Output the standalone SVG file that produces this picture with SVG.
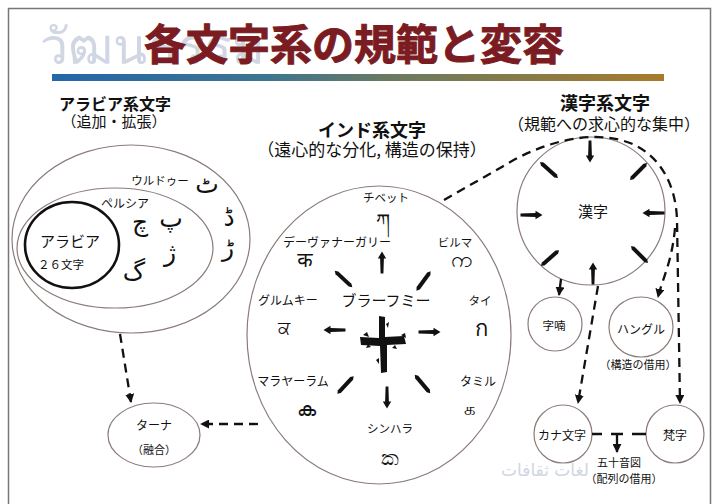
<svg xmlns="http://www.w3.org/2000/svg" width="715" height="504" viewBox="0 0 715 504">
<defs>
<style>
.jp{font-family:"Noto Sans CJK JP","Noto Sans",sans-serif;fill:#111;text-anchor:middle}
.hd{font-weight:bold}
.node{fill:#fff;stroke:#8a7c78;stroke-width:1.2}
.dash{fill:none;stroke:#111;stroke-width:2.3;stroke-dasharray:9 6}
.solid{fill:none;stroke:#111;stroke-width:2.3}
.scr{font-family:"DejaVu Sans","Noto Sans",sans-serif;fill:#111;text-anchor:middle}
.wm{font-family:"DejaVu Sans","Noto Sans",sans-serif;fill:#d0d6e3}
.rad{fill:#111}
</style>
<linearGradient id="bar" x1="0" y1="0" x2="1" y2="0">
<stop offset="0" stop-color="#2466a9"/>
<stop offset="0.35" stop-color="#3d7590"/>
<stop offset="0.55" stop-color="#6a7a60"/>
<stop offset="1" stop-color="#a67b2c"/>
</linearGradient>
<marker id="ah" viewBox="0 0 10 10" refX="9" refY="5" markerWidth="9" markerHeight="9" markerUnits="userSpaceOnUse" orient="auto">
<path d="M0,0 L10,5 L0,10 Z" fill="#111"/>
</marker>
<path id="arr" d="M-11,-1.4 L4,-1.9 L4,-4.2 L11,0 L4,4.2 L4,1.9 L-11,1.4 Z"/>
<path id="spin" d="M-12,0 L-9,-2 L9,-2 L12,0 L9,2 L-9,2 Z"/>
</defs>
<rect x="0" y="0" width="715" height="504" fill="#fff"/>
<g id="watermark">
<text class="wm" x="40" y="64" font-size="50">วัฒนธรรม</text>
<text class="wm" x="545" y="476" font-size="17" text-anchor="middle">لغات ثقافات</text>
</g>
<rect x="8.5" y="8.5" width="702" height="510" fill="none" stroke="#777" stroke-width="1.5"/>
<g id="title">
<text x="354" y="60" font-family="&quot;Noto Sans CJK JP&quot;,sans-serif" font-size="42" font-weight="bold" fill="#7b1c22" stroke="#7b1c22" stroke-width="1" text-anchor="middle">各文字系の規範と変容</text>
<rect x="52" y="74" width="612" height="7" fill="url(#bar)"/>
</g>
<g id="headings">
<text class="jp hd" x="115" y="110" font-size="16">アラビア系文字</text>
<text class="jp" x="114" y="127" font-size="15">（追加・拡張）</text>
<text class="jp hd" x="372" y="137" font-size="18">インド系文字</text>
<text class="jp" x="372" y="156" font-size="17">（遠心的な分化, 構造の保持）</text>
<text class="jp hd" x="605" y="110" font-size="18">漢字系文字</text>
<text class="jp" x="604" y="130" font-size="16">（規範への求心的な集中）</text>
</g>
<g id="urdu">
<ellipse class="node" cx="131" cy="239" rx="119" ry="94"/>
<text class="jp" x="160" y="185" font-size="11.5">ウルドゥー</text>
<text class="scr" x="207" y="193" font-size="25">ٹ</text>
<text class="scr" x="229" y="226" font-size="25">ڈ</text>
<text class="scr" x="228" y="256" font-size="25">ڑ</text>
</g>
<g id="persian">
<ellipse class="node" cx="115" cy="248" rx="98" ry="60"/>
<text class="jp" x="125" y="208" font-size="12">ペルシア</text>
<text class="scr" x="140" y="231" font-size="25">چ</text>
<text class="scr" x="171" y="227" font-size="25">پ</text>
<text class="scr" x="170" y="261" font-size="25">ژ</text>
<text class="scr" x="134" y="280" font-size="25">گ</text>
</g>
<g id="arabic">
<ellipse cx="72" cy="245" rx="47" ry="43" fill="#fff" stroke="#111" stroke-width="2.6"/>
<text class="jp" x="70" y="247" font-size="15">アラビア</text>
<text class="jp" x="61" y="269" font-size="11.5">２６文字</text>
</g>
<g id="tana">
<ellipse class="node" cx="154" cy="435" rx="46" ry="32"/>
<text class="jp" x="154" y="430" font-size="12">ターナ</text>
<text class="jp" x="154" y="454" font-size="11">（融合）</text>
</g>
<g id="indic">
<ellipse class="node" cx="379" cy="335" rx="132" ry="149"/>
<text class="jp" x="386" y="202" font-size="11.5">チベット</text>
<text class="scr" x="383" y="228" font-size="20">ཀ</text>
<text class="jp" x="337" y="247" font-size="12">デーヴァナーガリー</text>
<text class="scr" x="305" y="267" font-size="20">क</text>
<text class="jp" x="455" y="247" font-size="11.5">ビルマ</text>
<text class="scr" x="461" y="267" font-size="22">က</text>
<text class="jp" x="288" y="305" font-size="12">グルムキー</text>
<text class="scr" x="284" y="334" font-size="18">ਕ</text>
<text class="jp" x="386" y="306" font-size="15">ブラーフミー</text>
<text class="jp" x="480" y="305" font-size="11.5">タイ</text>
<text class="scr" x="481" y="336" font-size="22">ก</text>
<text class="jp" x="293" y="386" font-size="12">マラヤーラム</text>
<text class="scr" x="306" y="416" font-size="20">ക</text>
<text class="jp" x="478" y="386" font-size="12">タミル</text>
<text class="scr" x="470" y="415" font-size="18">க</text>
<text class="jp" x="390" y="433" font-size="11.5">シンハラ</text>
<text class="scr" x="390" y="465" font-size="22">ක</text>
<path class="rad" d="M379,316 L385,317 L385,337 L404,336 L406,344 L387,345 L387,372 L381,373 L380,346 L361,345 L360,337 L379,338 Z"/>
<path class="rad" d="M363,335 l4,-3 l2,5 z M401,335 l4,-2 l1,5 z M379,358 l-3,2 l3,4 z M386,324 l3,-2 l-1,6 z M368,344 l-2,4 l5,-1 z M395,345 l2,4 l-5,-1 z"/>
<use href="#arr" class="rad" transform="translate(382,262.5) rotate(-90)"/>
<use href="#arr" class="rad" transform="translate(334.5,330) rotate(180)"/>
<use href="#arr" class="rad" transform="translate(429.5,332) rotate(0)"/>
<use href="#arr" class="rad" transform="translate(387,397.5) rotate(90)"/>
<use href="#spin" class="rad" transform="translate(343.5,279) rotate(43)"/>
<use href="#spin" class="rad" transform="translate(423.5,281) rotate(-54)"/>
<use href="#spin" class="rad" transform="translate(345.5,385) rotate(-47)"/>
<use href="#spin" class="rad" transform="translate(422.5,384) rotate(50)"/>
</g>
<g id="kanji">
<circle class="node" cx="591" cy="211" r="74"/>
<text class="jp" x="593" y="217" font-size="15">漢字</text>
<use href="#arr" class="rad" transform="translate(590,151.5) rotate(90)"/>
<use href="#arr" class="rad" transform="translate(593,273.5) rotate(-90)"/>
<use href="#arr" class="rad" transform="translate(531.5,215) rotate(0)"/>
<use href="#arr" class="rad" transform="translate(653.5,213) rotate(180)"/>
<use href="#spin" class="rad" transform="translate(549,170) rotate(42)"/>
<use href="#spin" class="rad" transform="translate(638.5,171.5) rotate(-45)"/>
<use href="#spin" class="rad" transform="translate(550,258) rotate(-41)"/>
<use href="#spin" class="rad" transform="translate(639.5,254.5) rotate(45)"/>
</g>
<g id="chunom">
<circle class="node" cx="555" cy="324" r="27"/>
<text class="jp" x="554" y="330" font-size="11.5">字喃</text>
</g>
<g id="hangul">
<ellipse class="node" cx="641" cy="327" rx="32" ry="30"/>
<text class="jp" x="641" y="334" font-size="12">ハングル</text>
<text class="jp" x="638" y="369" font-size="11">（構造の借用）</text>
</g>
<g id="kana">
<circle class="node" cx="563" cy="434" r="29"/>
<text class="jp" x="562" y="440" font-size="12">カナ文字</text>
</g>
<g id="bonji">
<circle class="node" cx="675" cy="434" r="29"/>
<text class="jp" x="675" y="440" font-size="12">梵字</text>
</g>
<g id="gojuon">
<text class="jp" x="619" y="467" font-size="11">五十音図</text>
<text class="jp" x="624" y="483" font-size="11">（配列の借用）</text>
</g>
<g id="connectors">
<path class="dash" d="M120,334 L131,402" marker-end="url(#ah)"/>
<path class="dash" d="M258,424 L201,424" marker-end="url(#ah)"/>
<path class="dash" d="M444,200 L500,168 C540,143 590,128 630,143 C660,155 676,185 677,220 L680,403" marker-end="url(#ah)"/>
<path class="dash" d="M675,228 C672,262 662,280 658,297" marker-end="url(#ah)"/>
<path class="dash" d="M598,286 L578,403" marker-end="url(#ah)"/>
<path class="solid" d="M561,279 L559,295" marker-end="url(#ah)"/>
<path class="solid" d="M592,434 L602,434 M611,434 L623,434 M632,434 L646,434"/>
<path class="solid" d="M617,434 L617,452" marker-end="url(#ah)"/>
</g>
</svg>
